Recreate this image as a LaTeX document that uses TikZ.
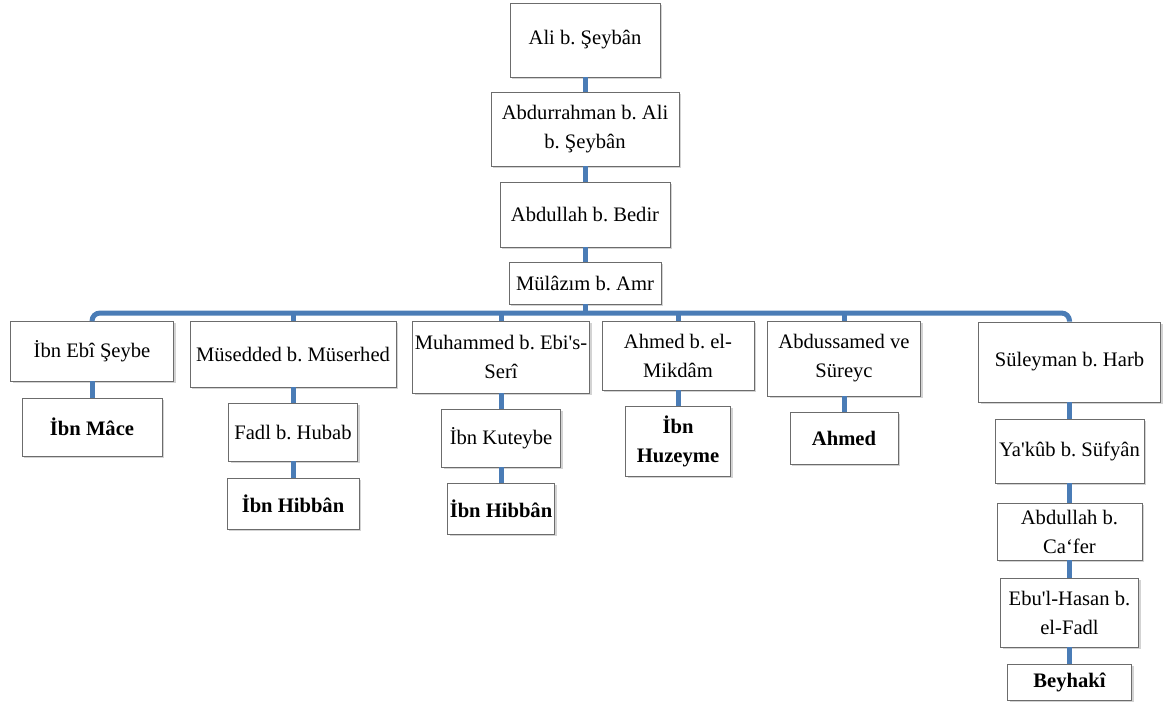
\documentclass[tikz,border=0pt]{standalone}
\usepackage{fontspec}
\newfontfamily\personfont{Liberation Serif}
\usepackage{tikz}
\usetikzlibrary{shadows}
\definecolor{linkblue}{HTML}{4A7CB6}

\tikzset{
    person/.style={draw=gray!85!black, fill=white, align=center, inner sep=1pt,
        drop shadow={shadow xshift=1.2pt, shadow yshift=-1.2pt, opacity=0.35},
        font=\personfont\frenchspacing\fontsize{10.3}{14.5}\selectfont},
    last/.style={person, font=\personfont\frenchspacing\fontsize{10.3}{14.5}\selectfont\bfseries},
    sz/.style 2 args={minimum width=#1*0.5pt, minimum height=#2*0.5pt},
    link/.style={draw=linkblue, line width=2.5pt}
}

\begin{document}
\begin{tikzpicture}[x=0.5pt, y=-0.5pt]
        \useasboundingbox (0,0) rectangle (1169,713);

        % chain down to Mülâzım
        \node[person, sz={150}{74}] (ali) at (585,40) {Ali b. Şeybân};
        \node[person, sz={188}{74}] (abdurrahman) at (585,129) {Abdurrahman b. Ali\\b. Şeybân};
        \node[person, sz={170}{65}] (bedir) at (585,214.5) {Abdullah b. Bedir};
        \node[person, sz={152}{42}] (mulazim) at (585,283) {Mülâzım b. Amr};

        % students of Mülâzım
        \node[person, sz={163}{60}] (seybe) at (92,351) {İbn Ebî Şeybe};
        \node[person, sz={206}{66}] (musedded) at (293,354) {Müsedded b. Müserhed};
        \node[person, sz={174}{72}] (muhammed) at (501,357) {Muhammed b. Ebi's-\\Serî};
        \node[person, sz={152}{69}] (mikdam) at (678,355.5) {Ahmed b. el-\\Mikdâm};
        \node[person, sz={153}{75}] (abdussamed) at (844,358.5) {Abdussamed ve\\Süreyc};
        \node[person, sz={182}{80}] (suleyman) at (1069.5,362) {Süleyman b. Harb};

        % lower lines
        \node[last, sz={140}{58}] (mace) at (92,427) {İbn Mâce};
        \node[person, sz={129}{58}] (fadl) at (293,432) {Fadl b. Hubab};
        \node[last, sz={132}{51}] (hibbanA) at (293,503.5) {İbn Hibbân};
        \node[person, sz={119}{58}] (kuteybe) at (501,438) {İbn Kuteybe};
        \node[last, sz={105}{51}] (hibbanB) at (501,508.5) {İbn Hibbân};
        \node[last, sz={105}{70}] (huzeyme) at (678,441) {İbn\\Huzeyme};
        \node[last, sz={108}{52}] (ahmed) at (844,438) {Ahmed};
        \node[person, sz={149}{64}] (yakub) at (1069.5,451) {Ya'kûb b. Süfyân};
        \node[person, sz={145}{57}] (cafer) at (1069.5,531.5) {Abdullah b.\\Ca‘fer};
        \node[person, sz={138}{69}] (ebulhasan) at (1069.5,612.5) {Ebu'l-Hasan b.\\el-Fadl};
        \node[last, sz={124}{36}] (beyhaki) at (1069.5,682) {Beyhakî};

        % connectors
        \coordinate (bus) at (585,313);
        \draw[link] (ali.south) -- (abdurrahman.north);
        \draw[link] (abdurrahman.south) -- (bedir.north);
        \draw[link] (bedir.south) -- (mulazim.north);
        \draw[link] (mulazim.south) -- (bus);
        \draw[link, rounded corners=4pt] (seybe.north) |- (bus) -| (suleyman.north);
        \draw[link] (musedded.north) -- (musedded.north |- bus);
        \draw[link] (muhammed.north) -- (muhammed.north |- bus);
        \draw[link] (mikdam.north) -- (mikdam.north |- bus);
        \draw[link] (abdussamed.north) -- (abdussamed.north |- bus);

        \draw[link] (seybe.south) -- (mace.north);
        \draw[link] (musedded.south) -- (fadl.north);
        \draw[link] (fadl.south) -- (hibbanA.north);
        \draw[link] (muhammed.south) -- (kuteybe.north);
        \draw[link] (kuteybe.south) -- (hibbanB.north);
        \draw[link] (mikdam.south) -- (huzeyme.north);
        \draw[link] (abdussamed.south) -- (ahmed.north);
        \draw[link] (suleyman.south) -- (yakub.north);
        \draw[link] (yakub.south) -- (cafer.north);
        \draw[link] (cafer.south) -- (ebulhasan.north);
        \draw[link] (ebulhasan.south) -- (beyhaki.north);
\end{tikzpicture}
\end{document}
